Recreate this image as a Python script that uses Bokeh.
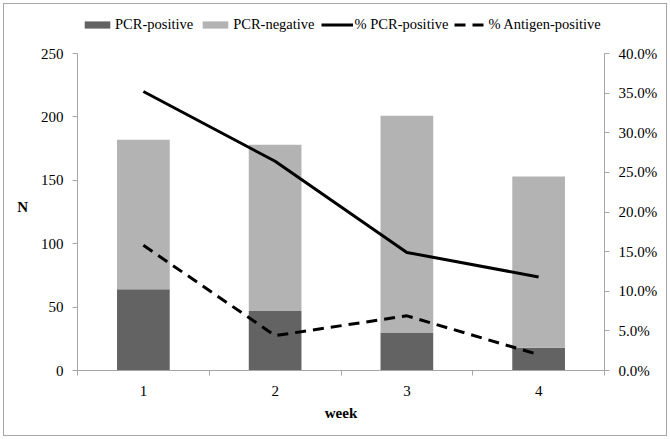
from bokeh.plotting import figure
from bokeh.models import (LinearAxis, Range1d, FixedTicker, NumeralTickFormatter,
                          Legend, LegendItem)
from bokeh.embed import file_html
from bokeh.resources import INLINE

# ---- data ----
weeks = [1, 2, 3, 4]
week_labels = ["1", "2", "3", "4"]
pcr_positive = [64, 47, 30, 18]
pcr_negative = [118, 131, 171, 135]
pct_pcr_positive = [0.352, 0.264, 0.149, 0.118]
pct_antigen_positive = [0.158, 0.044, 0.069, 0.020]
n_max = 250
pct_max = 0.40
n_ticks = [0, 50, 100, 150, 200, 250]
pct_ticks = [0.0, 0.05, 0.10, 0.15, 0.20, 0.25, 0.30, 0.35, 0.40]
category_edges = [0.5, 1.5, 2.5, 3.5, 4.5]

totals = [a + b for a, b in zip(pcr_positive, pcr_negative)]

FONT = "Liberation Serif"
AXIS_GRAY = "#a6a6a6"
DARK = "#636363"
LIGHT = "#b3b3b3"

# layout (pixels)
W, H = 670, 439
FRAME_L, FRAME_R, FRAME_T, FRAME_B = 77, 604, 5, 370
AXIS_TOP = 53                       # where 250 / 40% sit
stretch = (FRAME_B - FRAME_T) / (FRAME_B - AXIS_TOP)

p = figure(width=W, height=H, x_range=Range1d(0.5, 4.5), y_range=Range1d(0, n_max * stretch),
           output_backend="svg", toolbar_location=None,
           min_border_left=FRAME_L, min_border_right=W - FRAME_R,
           min_border_top=FRAME_T, min_border_bottom=H - FRAME_B)
p.extra_y_ranges = {"pct": Range1d(0, pct_max * stretch)}
p.xgrid.visible = False
p.ygrid.visible = False
p.outline_line_color = None
p.background_fill_color = "white"
p.border_fill_color = None
p.styles = {"background-color": "white", "outline": "1.5px solid #a6a6a6",
            "outline-offset": "-4px"}

r_pos = p.vbar(x=weeks, bottom=0, top=pcr_positive, width=0.4, fill_color=DARK, line_color=None)
r_neg = p.vbar(x=weeks, bottom=pcr_positive, top=totals, width=0.4, fill_color=LIGHT, line_color=None)
r_l1 = p.line(weeks, pct_pcr_positive, y_range_name="pct", line_color="black", line_width=3)
r_l2 = p.line(weeks, pct_antigen_positive, y_range_name="pct", line_color="black", line_width=3,
              line_dash="11 7")

# x axis
xa = p.xaxis[0]
xa.ticker = FixedTicker(ticks=weeks, minor_ticks=category_edges)
xa.major_label_overrides = {w: l for w, l in zip(weeks, week_labels)}
xa.major_tick_line_color = None
xa.major_tick_out = 0
xa.major_tick_in = 0
xa.minor_tick_line_color = AXIS_GRAY
xa.minor_tick_out = 5
xa.minor_tick_in = 0
xa.axis_line_color = AXIS_GRAY
xa.major_label_standoff = 10
xa.major_label_text_font = FONT
xa.major_label_text_font_size = "15px"
xa.major_label_text_color = "black"
xa.axis_label = "week"
xa.axis_label_text_font = FONT
xa.axis_label_text_font_style = "bold"
xa.axis_label_text_font_size = "15px"
xa.axis_label_text_color = "black"
xa.axis_label_standoff = 6

# left axis
ya = p.yaxis[0]
ya.bounds = (0, n_max)
ya.ticker = FixedTicker(ticks=n_ticks)
ya.minor_tick_line_color = None
ya.major_tick_out = 5
ya.major_tick_in = 0
ya.major_tick_line_color = AXIS_GRAY
ya.axis_line_color = AXIS_GRAY
ya.major_label_standoff = 9
ya.major_label_text_font = FONT
ya.major_label_text_font_size = "15px"
ya.major_label_text_color = "black"
ya.axis_label = "\n\nN"
ya.axis_label_orientation = "horizontal"
ya.axis_label_text_baseline = "top"
ya.axis_label_text_font = FONT
ya.axis_label_text_font_style = "bold"
ya.axis_label_text_font_size = "15px"
ya.axis_label_text_color = "black"
ya.axis_label_standoff = 10

# right axis
ra = LinearAxis(y_range_name="pct", ticker=FixedTicker(ticks=pct_ticks),
                formatter=NumeralTickFormatter(format="0.0%"), bounds=(0, pct_max))
ra.minor_tick_line_color = None
ra.major_tick_out = 5
ra.major_tick_in = 0
ra.major_tick_line_color = AXIS_GRAY
ra.axis_line_color = AXIS_GRAY
ra.major_label_standoff = 9
ra.major_label_text_font = FONT
ra.major_label_text_font_size = "15px"
ra.major_label_text_color = "black"
p.add_layout(ra, "right")

legend = Legend(items=[LegendItem(label="PCR-positive", renderers=[r_pos]),
                       LegendItem(label="PCR-negative", renderers=[r_neg]),
                       LegendItem(label="% PCR-positive", renderers=[r_l1]),
                       LegendItem(label="% Antigen-positive", renderers=[r_l2])],
                orientation="horizontal", location=(4, FRAME_B - 34),
                glyph_width=32, glyph_height=9, label_standoff=2, spacing=6,
                padding=0, margin=0, border_line_color=None, background_fill_alpha=0,
                label_text_font=FONT, label_text_font_size="14.5px", label_text_color="black",
                label_height=20)
p.add_layout(legend)

open("out.html", "w").write(file_html(p, INLINE))
